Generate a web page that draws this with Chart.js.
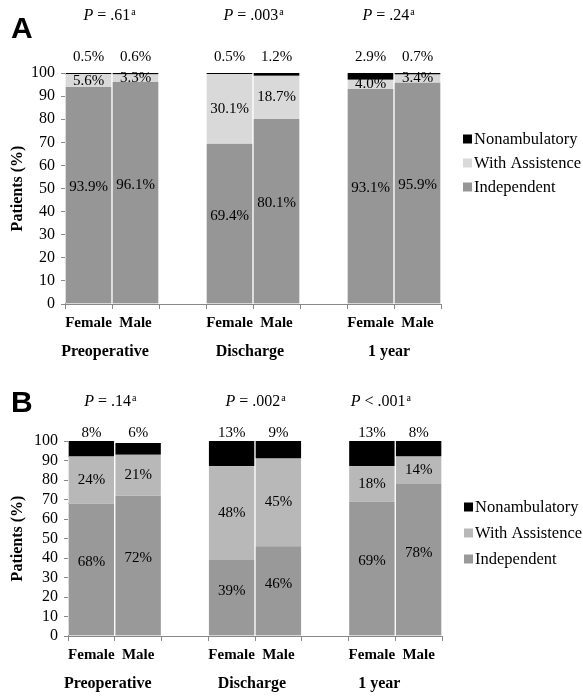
<!DOCTYPE html>
<html lang="en">
<head>
<meta charset="UTF-8">
<title>Ambulation status by sex</title>
<style>
  body { margin: 0; background: #fff; }
  canvas { display: block; }
</style>
</head>
<body>
<canvas id="chartA" width="583" height="362"></canvas>
<canvas id="chartB" width="583" height="334"></canvas>

<script src="https://cdn.jsdelivr.net/npm/chart.js"></script>
<script>
// shared categories
var groups = ['Preoperative', 'Discharge', '1 year'];
var sexes = ['Female', 'Male'];
var series = ['Independent', 'With Assistence', 'Nonambulatory'];

// panel A (Female, Male per group)
var independentA = [93.9, 96.1, 69.4, 80.1, 93.1, 95.9];
var assistA = [5.6, 3.3, 30.1, 18.7, 4.0, 3.4];
var nonambA = [0.5, 0.6, 0.5, 1.2, 2.9, 0.7];
var pValuesA = ['= .61', '= .003', '= .24'];

// panel B
var independentB = [68, 72, 39, 46, 69, 78];
var assistB = [24, 21, 48, 45, 18, 14];
var nonambB = [8, 6, 13, 9, 13, 8];
var pValuesB = ['= .14', '= .002', '< .001'];

var serif = '"Liberation Serif", "Times New Roman", serif';
Chart.defaults.font.family = serif;
Chart.defaults.color = '#000';

// Female, Male, gap, Female, Male, gap, ...
var labels = [];
groups.forEach(function (g, gi) {
    if (gi > 0) labels.push('');
    sexes.forEach(function (s) { labels.push(s); });
});

function spread(arr) {
    var out = [];
    for (var gi = 0; gi < groups.length; gi++) {
        if (gi > 0) out.push(null);
        out.push(arr[gi * 2], arr[gi * 2 + 1]);
    }
    return out;
}

// value labels, P values, group names, panel letter, legend
var decor = {
    id: 'decor',
    afterDatasetsDraw: function (chart, args, o) {
        var ctx = chart.ctx, area = chart.chartArea, xs = chart.scales.x;
        ctx.save();
        ctx.fillStyle = '#000';
        ctx.textAlign = 'center';
        ctx.textBaseline = 'middle';
        ctx.font = '15px ' + serif;
        chart.data.datasets.forEach(function (ds, di) {
            chart.getDatasetMeta(di).data.forEach(function (bar, i) {
                var v = ds.data[i];
                if (v == null) return;
                var ty = di === 2 ? area.top - o.topGap : (bar.y + bar.base) / 2 + (di === 0 ? o.lift : 0);
                ctx.fillText(v.toFixed(o.decimals) + '%', bar.x, ty);
            });
        });

        groups.forEach(function (g, gi) {
            var cx = (xs.getPixelForValue(gi * 3) + xs.getPixelForValue(gi * 3 + 1)) / 2;
            ctx.textAlign = 'center';
            ctx.font = 'bold 16px ' + serif;
            ctx.fillText(g, cx + o.labelShift[gi], area.bottom + 48);

            // P = ...^a
            var px = cx + o.pShift[gi];
            var rest = ' ' + o.pValues[gi];
            ctx.font = 'italic 16px ' + serif;
            var wP = ctx.measureText('P').width;
            ctx.font = '16px ' + serif;
            var wR = ctx.measureText(rest).width;
            ctx.font = '10px ' + serif;
            var wA = ctx.measureText('a').width;
            var x0 = px - (wP + wR + wA) / 2;
            ctx.textAlign = 'left';
            ctx.font = 'italic 16px ' + serif;
            ctx.fillText('P', x0, o.pY);
            ctx.font = '16px ' + serif;
            ctx.fillText(rest, x0 + wP, o.pY);
            ctx.font = '10px ' + serif;
            ctx.fillText('a', x0 + wP + wR + 1, o.pY - 4);
        });

        ctx.textAlign = 'left';
        ctx.textBaseline = 'alphabetic';
        ctx.font = 'bold 30px "Liberation Sans", Arial, sans-serif';
        ctx.fillText(o.letter, 11, o.letterY);

        // legend, top item is the top of the stack
        ctx.textBaseline = 'middle';
        ctx.font = '16.5px ' + serif;
        var ds = chart.data.datasets.slice().reverse();
        ds.forEach(function (d, k) {
            var ry = area.top + 66 + k * o.legendGap;
            var lx = area.right + 22;
            ctx.fillStyle = d.backgroundColor;
            ctx.fillRect(lx, ry - 4.5, 9, 9);
            ctx.fillStyle = '#000';
            ctx.fillText(d.label, lx + 11, ry + 1);
        });
        ctx.restore();
    }
};

function makeChart(id, indep, assist, nonamb, colors, opts) {
    return new Chart(document.getElementById(id).getContext('2d'), {
        type: 'bar',
        data: {
            labels: labels,
            datasets: [indep, assist, nonamb].map(function (arr, k) {
                return {
                    label: series[k],
                    data: spread(arr),
                    backgroundColor: colors[k],
                    borderColor: '#fff',
                    borderWidth: { left: 1, right: 1, top: 0, bottom: 0 },
                    borderSkipped: false,
                    barPercentage: 1,
                    categoryPercentage: 1
                };
            })
        },
        options: {
            responsive: false,
            animation: false,
            layout: { padding: opts.padding },
            plugins: {
                legend: { display: false },
                tooltip: { enabled: false },
                decor: opts.decor
            },
            scales: {
                x: {
                    stacked: true,
                    afterFit: function (s) { s.height = 24; },
                    grid: { drawOnChartArea: false, offset: true, tickLength: 5, color: '#888' },
                    border: { color: '#888' },
                    ticks: { font: { size: 15, weight: 'bold' }, padding: 5, maxRotation: 0, autoSkip: false }
                },
                y: {
                    stacked: true,
                    min: 0,
                    max: 100,
                    afterFit: function (s) { s.width = opts.yWidth; },
                    grid: { drawOnChartArea: false, tickLength: 4, color: '#888' },
                    border: { color: '#888' },
                    ticks: { stepSize: 10, autoSkip: false, font: { size: 16 }, padding: 6 },
                    title: { display: true, text: 'Patients (%)', font: { size: 16, weight: 'bold' }, padding: { top: 8, bottom: 0 } }
                }
            }
        },
        plugins: [decor]
    });
}

makeChart('chartA', independentA, assistA, nonambA, ['#969696', '#d9d9d9', '#000000'], {
    padding: { top: 73, bottom: 34, left: 0, right: 142 },
    yWidth: 65,
    decor: {
        letter: 'A', letterY: 38, pY: 16, pValues: pValuesA, decimals: 1, topGap: 16, lift: -8, legendGap: 24,
        labelShift: [-7, -3, -5], pShift: [-3, 0, -6]
    }
});

makeChart('chartB', independentB, assistB, nonambB, ['#999999', '#b8b8b8', '#000000'], {
    padding: { top: 79, bottom: 36, left: 0, right: 141 },
    yWidth: 68,
    decor: {
        letter: 'B', letterY: 50, pY: 40, pValues: pValuesB, decimals: 0, topGap: 8, lift: -7, legendGap: 26,
        labelShift: [-7, -3, -16], pShift: [-5, 0, -15]
    }
});
</script>
</body>
</html>
